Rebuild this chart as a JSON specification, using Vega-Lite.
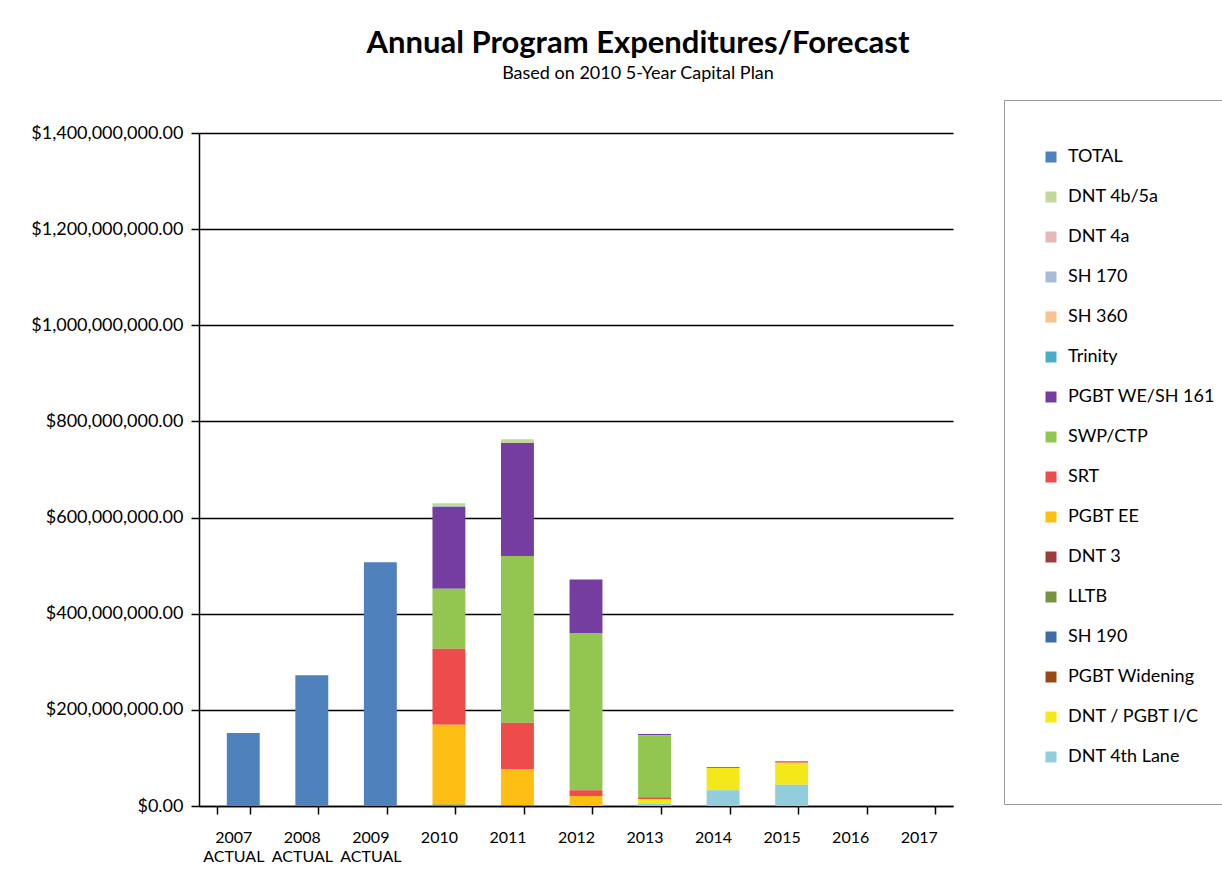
{
  "$schema": "https://vega.github.io/schema/vega-lite/v6.json",
  "width": 754,
  "height": 673,
  "padding": {"left": 30, "top": 27, "right": 0, "bottom": 0},
  "background": "white",
  "title": {
    "text": "Annual Program Expenditures/Forecast",
    "subtitle": "Based on 2010 5-Year Capital Plan",
    "font": "Lato",
    "fontSize": 31,
    "fontWeight": "bold",
    "subtitleFont": "Lato",
    "subtitleFontSize": 18,
    "subtitleColor": "black",
    "subtitlePadding": 5,
    "color": "black",
    "anchor": "middle",
    "dx": 62,
    "offset": 16
  },
  "config": {
    "view": {"stroke": null},
    "font": "Lato"
  },
  "data": {
    "values": [
      {"year": "2007 ACTUAL", "series": "TOTAL", "value": 152000000, "order": 16},
      {"year": "2008 ACTUAL", "series": "TOTAL", "value": 272000000, "order": 16},
      {"year": "2009 ACTUAL", "series": "TOTAL", "value": 507000000, "order": 16},
      {"year": "2010", "series": "DNT 4b/5a", "value": 6000000, "order": 15},
      {"year": "2010", "series": "SH 170", "value": 2000000, "order": 13},
      {"year": "2010", "series": "PGBT WE/SH 161", "value": 170000000, "order": 10},
      {"year": "2010", "series": "SWP/CTP", "value": 125000000, "order": 9},
      {"year": "2010", "series": "SRT", "value": 158000000, "order": 8},
      {"year": "2010", "series": "PGBT EE", "value": 166000000, "order": 7},
      {"year": "2010", "series": "LLTB", "value": 3000000, "order": 5},
      {"year": "2011", "series": "DNT 4b/5a", "value": 8000000, "order": 15},
      {"year": "2011", "series": "PGBT WE/SH 161", "value": 235000000, "order": 10},
      {"year": "2011", "series": "SWP/CTP", "value": 347000000, "order": 9},
      {"year": "2011", "series": "SRT", "value": 96000000, "order": 8},
      {"year": "2011", "series": "PGBT EE", "value": 75000000, "order": 7},
      {"year": "2011", "series": "LLTB", "value": 2000000, "order": 5},
      {"year": "2012", "series": "PGBT WE/SH 161", "value": 112000000, "order": 10},
      {"year": "2012", "series": "SWP/CTP", "value": 326000000, "order": 9},
      {"year": "2012", "series": "SRT", "value": 12000000, "order": 8},
      {"year": "2012", "series": "PGBT EE", "value": 21000000, "order": 7},
      {"year": "2013", "series": "PGBT WE/SH 161", "value": 3000000, "order": 10},
      {"year": "2013", "series": "SWP/CTP", "value": 129000000, "order": 9},
      {"year": "2013", "series": "SRT", "value": 4000000, "order": 8},
      {"year": "2013", "series": "DNT / PGBT I/C", "value": 10000000, "order": 2},
      {"year": "2013", "series": "DNT 4th Lane", "value": 4000000, "order": 1},
      {"year": "2014", "series": "SRT", "value": 2000000, "order": 8},
      {"year": "2014", "series": "DNT / PGBT I/C", "value": 46000000, "order": 2},
      {"year": "2014", "series": "DNT 4th Lane", "value": 33000000, "order": 1},
      {"year": "2015", "series": "SRT", "value": 3000000, "order": 8},
      {"year": "2015", "series": "DNT / PGBT I/C", "value": 46000000, "order": 2},
      {"year": "2015", "series": "DNT 4th Lane", "value": 44000000, "order": 1}
    ]
  },
  "mark": {"type": "bar", "xOffset": 10},
  "encoding": {
    "x": {
      "field": "year",
      "type": "nominal",
      "scale": {
        "domain": ["2007 ACTUAL", "2008 ACTUAL", "2009 ACTUAL", "2010", "2011", "2012", "2013", "2014", "2015", "2016", "2017"],
        "paddingInner": 0.52,
        "paddingOuter": 0.26
      },
      "axis": {
        "title": null,
        "labelAngle": 0,
        "labelExpr": "split(datum.label, ' ')",
        "labelFontSize": 16,
        "labelColor": "black",
        "labelFont": "Lato",
        "labelPadding": 15,
        "tickBand": "extent",
        "tickColor": "black",
        "tickSize": 8,
        "tickWidth": 1.5,
        "domainColor": "black",
        "domainWidth": 1.5,
        "labelLineHeight": 19
      }
    },
    "y": {
      "field": "value",
      "type": "quantitative",
      "stack": "zero",
      "scale": {"domain": [0, 1400000000], "nice": false},
      "axis": {
        "title": null,
        "format": "$,.2f",
        "values": [0, 200000000, 400000000, 600000000, 800000000, 1000000000, 1200000000, 1400000000],
        "labelFontSize": 18,
        "labelColor": "black",
        "labelFont": "Lato",
        "gridColor": "black",
        "gridWidth": 1.6,
        "gridOpacity": 1,
        "tickColor": "black",
        "tickSize": 8,
        "tickWidth": 1.5,
        "domainColor": "black",
        "domainWidth": 1.5,
        "labelPadding": 8
      }
    },
    "color": {
      "field": "series",
      "type": "nominal",
      "scale": {
        "domain": ["TOTAL", "DNT 4b/5a", "DNT 4a", "SH 170", "SH 360", "Trinity", "PGBT WE/SH 161", "SWP/CTP", "SRT", "PGBT EE", "DNT 3", "LLTB", "SH 190", "PGBT Widening", "DNT / PGBT I/C", "DNT 4th Lane"],
        "range": ["#4F81BD", "#C3D69B", "#E6B9B8", "#A9BADB", "#FAC090", "#4BACC6", "#743D9F", "#92C650", "#EE4B4B", "#FDBF13", "#9E3B3B", "#77933C", "#3D6CA6", "#984818", "#F2E81A", "#92CDDC"]
      },
      "legend": {
        "title": " ",
        "titleFontSize": 8,
        "titlePadding": 2,
        "orient": "none",
        "legendX": 805,
        "legendY": -33,
        "symbolType": "square",
        "symbolSize": 121,
        "symbolStrokeWidth": 0,
        "labelFontSize": 18,
        "labelFont": "Lato",
        "labelColor": "black",
        "labelOffset": 8,
        "rowPadding": 22,
        "padding": 38,
        "strokeColor": "#999999",
        "fillColor": "white",
        "labelLimit": 300
      }
    },
    "order": {"field": "order", "type": "quantitative", "sort": "ascending"}
  }
}
